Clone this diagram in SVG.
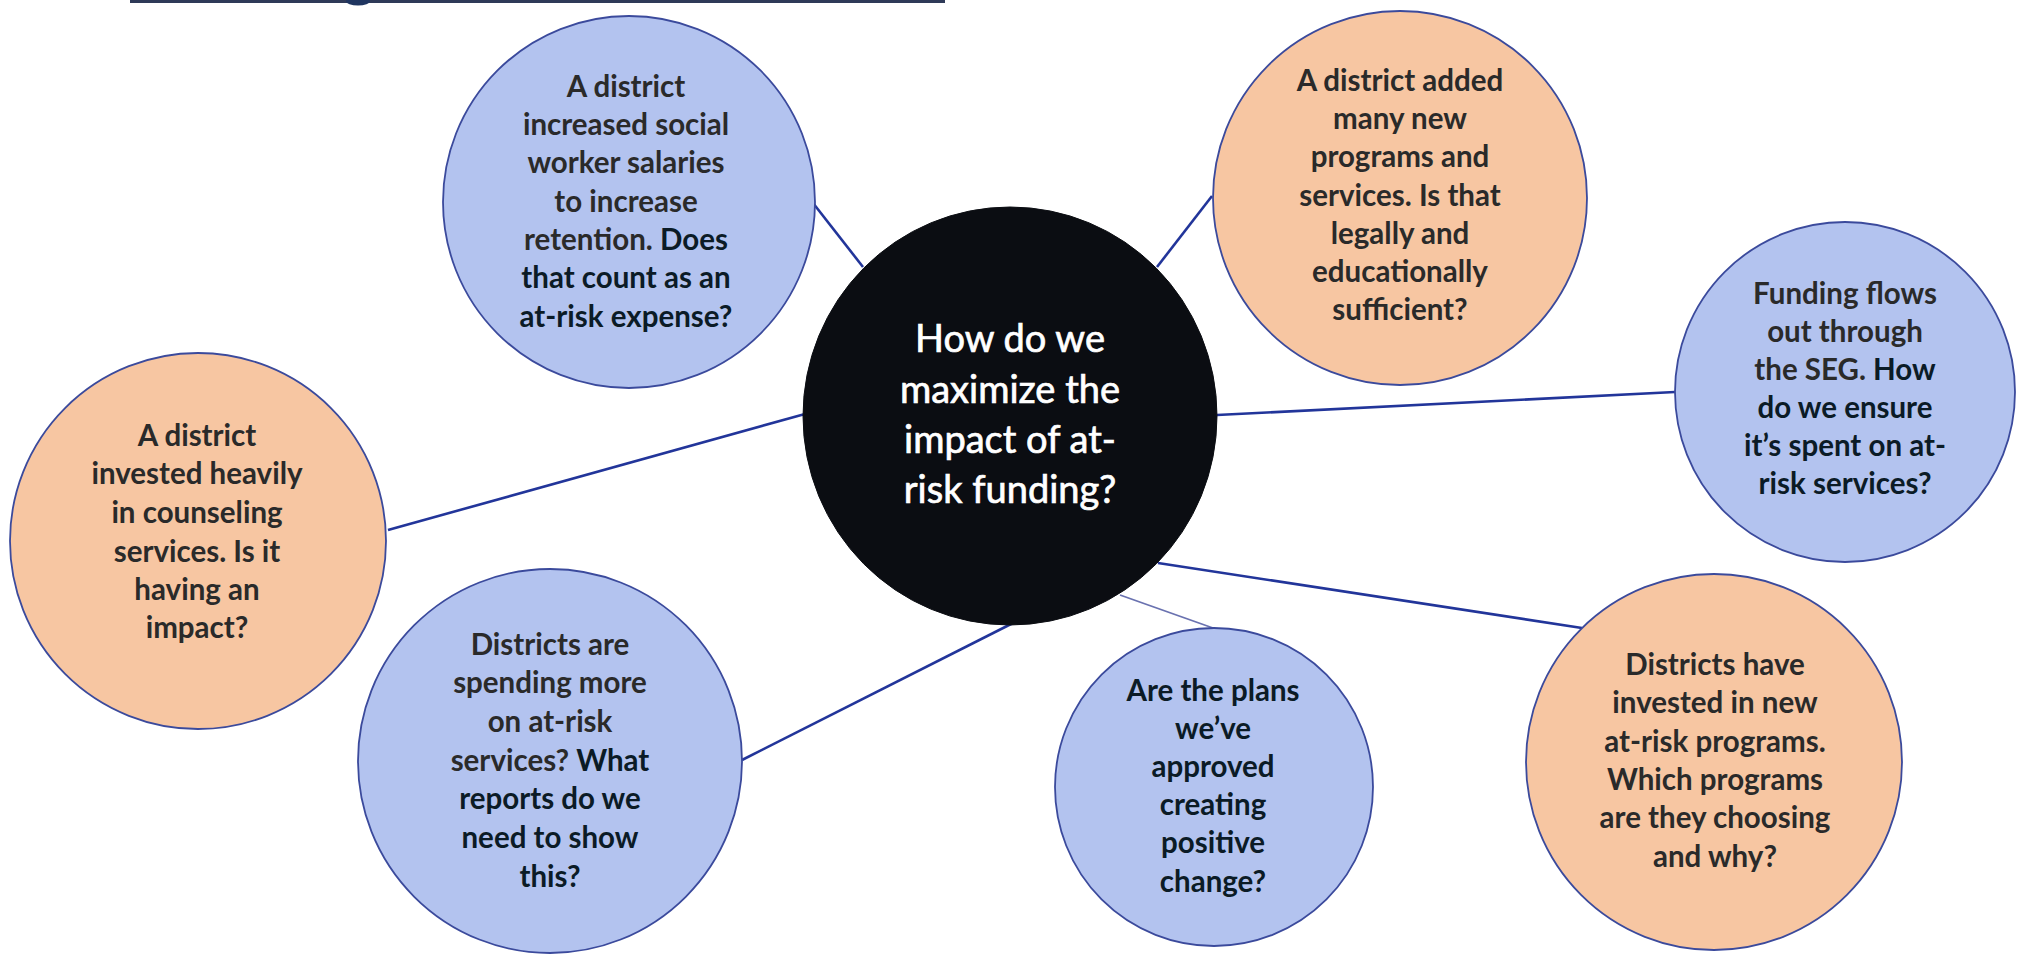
<svg xmlns="http://www.w3.org/2000/svg" width="2024" height="954" viewBox="0 0 2024 954">
  <style>
    .blue { fill: #b3c3ef; stroke: #3b4a9c; stroke-width: 1.8; }
    .orange { fill: #f7c6a2; stroke: #3b4a9c; stroke-width: 1.8; }
    .hub { fill: #0b0d12; stroke: #0b0d12; stroke-width: 1; }
    .conn { stroke: #22359a; stroke-width: 2.6; fill: none; }
    .conn-light { stroke: #6a72b0; stroke-width: 1.8; fill: none; }
    .t { font-family: Lato, "Open Sans", "Liberation Sans", sans-serif; font-weight: 700; font-size: 29.5px; text-anchor: middle; fill: #2a2a2a; }
    .q { fill: #0b1b26; }
    .hubt { font-family: Lato, "Open Sans", "Liberation Sans", sans-serif; font-weight: 400; font-size: 38px; text-anchor: middle; fill: #ffffff; stroke: #ffffff; stroke-width: 0.7; }
  </style>
  <rect width="2024" height="954" fill="#ffffff"/>
  <g id="header-edge">
    <rect x="130" y="0" width="815" height="3" fill="#2f3a58"/>
    <ellipse cx="358" cy="1" rx="12" ry="4.5" fill="#1f3560"/>
  </g>
  <g id="connectors">
    <line class="conn" x1="813" y1="203" x2="863" y2="267"/>
    <line class="conn" x1="1212" y1="196" x2="1157" y2="267"/>
    <line class="conn" x1="1217" y1="415" x2="1675" y2="392"/>
    <line class="conn" x1="388" y1="530" x2="805" y2="414"/>
    <line class="conn" x1="742" y1="760" x2="1013" y2="623"/>
    <line class="conn-light" x1="1120" y1="595" x2="1213" y2="628"/>
    <line class="conn" x1="1158" y1="563" x2="1582" y2="628"/>
  </g>
  <g id="hub">
    <ellipse class="hub" cx="1010" cy="416" rx="207" ry="209"/>
    <text class="hubt" x="1010" y="352">How do we</text>
    <text class="hubt" x="1010" y="403">maximize the</text>
    <text class="hubt" x="1010" y="453">impact of at-</text>
    <text class="hubt" x="1010" y="503">risk funding?</text>
  </g>
  <g id="node-salaries">
    <circle class="blue" cx="629" cy="202" r="186"/>
    <text class="t" x="626" y="97">A district</text>
    <text class="t" x="626" y="135">increased social</text>
    <text class="t" x="626" y="173">worker salaries</text>
    <text class="t" x="626" y="212">to increase</text>
    <text class="t" x="626" y="250">retention. <tspan class="q">Does</tspan></text>
    <text class="t q" x="626" y="288">that count as an</text>
    <text class="t q" x="626" y="327">at-risk expense?</text>
  </g>
  <g id="node-programs-added">
    <circle class="orange" cx="1400" cy="198" r="187"/>
    <text class="t" x="1400" y="91">A district added</text>
    <text class="t" x="1400" y="129">many new</text>
    <text class="t" x="1400" y="167">programs and</text>
    <text class="t" x="1400" y="206">services. Is that</text>
    <text class="t" x="1400" y="244">legally and</text>
    <text class="t" x="1400" y="282">educationally</text>
    <text class="t" x="1400" y="320">sufficient?</text>
  </g>
  <g id="node-seg">
    <circle class="blue" cx="1845" cy="392" r="170"/>
    <text class="t" x="1845" y="304">Funding flows</text>
    <text class="t" x="1845" y="342">out through</text>
    <text class="t" x="1845" y="380">the SEG. <tspan class="q">How</tspan></text>
    <text class="t q" x="1845" y="418">do we ensure</text>
    <text class="t q" x="1845" y="456">it’s spent on at-</text>
    <text class="t q" x="1845" y="494">risk services?</text>
  </g>
  <g id="node-counseling">
    <circle class="orange" cx="198" cy="541" r="188"/>
    <text class="t" x="197" y="446">A district</text>
    <text class="t" x="197" y="484">invested heavily</text>
    <text class="t" x="197" y="523">in counseling</text>
    <text class="t" x="197" y="562">services. Is it</text>
    <text class="t" x="197" y="600">having an</text>
    <text class="t" x="197" y="638">impact?</text>
  </g>
  <g id="node-spending">
    <circle class="blue" cx="550" cy="761" r="192"/>
    <text class="t" x="550" y="655">Districts are</text>
    <text class="t" x="550" y="693">spending more</text>
    <text class="t" x="550" y="732">on at-risk</text>
    <text class="t" x="550" y="771">services? <tspan class="q">What</tspan></text>
    <text class="t q" x="550" y="809">reports do we</text>
    <text class="t q" x="550" y="848">need to show</text>
    <text class="t q" x="550" y="887">this?</text>
  </g>
  <g id="node-plans">
    <circle class="blue" cx="1214" cy="787" r="159"/>
    <text class="t q" x="1213" y="701">Are the plans</text>
    <text class="t q" x="1213" y="739">we’ve</text>
    <text class="t q" x="1213" y="777">approved</text>
    <text class="t q" x="1213" y="815">creating</text>
    <text class="t q" x="1213" y="853">positive</text>
    <text class="t q" x="1213" y="892">change?</text>
  </g>
  <g id="node-invested">
    <circle class="orange" cx="1714" cy="762" r="188"/>
    <text class="t" x="1715" y="675">Districts have</text>
    <text class="t" x="1715" y="713">invested in new</text>
    <text class="t" x="1715" y="752">at-risk programs.</text>
    <text class="t" x="1715" y="790">Which programs</text>
    <text class="t" x="1715" y="828">are they choosing</text>
    <text class="t" x="1715" y="867">and why?</text>
  </g>
</svg>
